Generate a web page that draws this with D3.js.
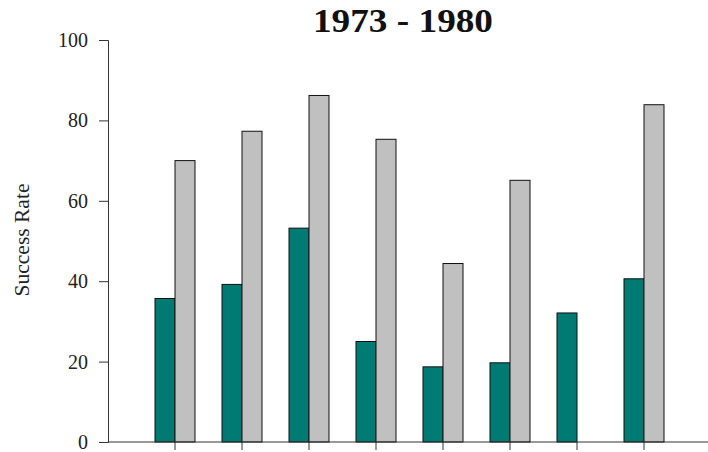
<!DOCTYPE html>
<html lang="en">
<head>
  <meta charset="UTF-8">
  <title>1973 - 1980</title>
  <script src="https://d3js.org/d3.v7.min.js"></script>
  <style>
    body {
      margin: 0;
      background: #fff;
    }
    svg {
      display: block;
      font-family: "Liberation Serif", "Times New Roman", serif;
    }
  </style>
</head>
<body>
  <svg id="chart" width="708" height="452"></svg>

  <script>
    // Chart data.
    const categories = ["1", "2", "3", "4", "5", "6", "7", "8"];
    const seriesA = [35.7, 39.2, 53.2, 25.0, 18.7, 19.7, 32.1, 40.6];
    const seriesB = [70.0, 77.3, 86.2, 75.3, 44.4, 65.1, null, 83.9];
    const yTicks = [0, 20, 40, 60, 80, 100];
    const titleText = "1973 - 1980";
    const yLabel = "Success Rate";

    const svg = d3.select("#chart");
    const plot = { left: 108, top: 40, bottom: 442, right: 708 };

    // x: one band per category, 67px wide, first centre at 175.
    const x = d3.scaleBand()
                .domain(categories)
                .range([plot.left + 33.5, plot.left + 33.5 + 67 * categories.length]);

    const sub = d3.scaleBand()
                  .domain(["a", "b"])
                  .range([0, 40]);

    const y = d3.scaleLinear()
                .domain([0, 100])
                .range([plot.bottom, plot.top]);

    // Title (the original is a bit wider than plain Times bold).
    svg.append("text")
       .attr("x", 403)
       .attr("y", 32)
       .attr("text-anchor", "middle")
       .attr("font-size", 33)
       .attr("font-weight", "bold")
       .attr("fill", "#111")
       .attr("textLength", 180)
       .attr("lengthAdjust", "spacingAndGlyphs")
       .text(titleText);

    // y axis.
    const yAxis = svg.append("g")
                     .attr("transform", `translate(${plot.left},0)`)
                     .call(d3.axisLeft(y).tickValues(yTicks).tickSize(9).tickPadding(11));
    yAxis.select(".domain").attr("stroke", "#333");
    yAxis.selectAll(".tick line").attr("stroke", "#333");
    yAxis.selectAll(".tick text")
         .attr("font-family", "Liberation Serif, serif")
         .attr("font-size", 20)
         .attr("fill", "#222");

    // y axis label.
    svg.append("text")
       .attr("transform", "rotate(-90)")
       .attr("x", -240)
       .attr("y", 29)
       .attr("text-anchor", "middle")
       .attr("font-size", 21.5)
       .attr("fill", "#222")
       .text(yLabel);

    // Bars.
    const groups = svg.selectAll("g.cat")
                      .data(categories)
                      .enter().append("g")
                      .attr("class", "cat")
                      .attr("transform", d => `translate(${x(d) + x.bandwidth() / 2 - 20},0)`);

    groups.append("rect")
          .attr("x", sub("a"))
          .attr("y", (d, i) => y(seriesA[i]))
          .attr("width", sub.bandwidth())
          .attr("height", (d, i) => y(0) - y(seriesA[i]))
          .attr("fill", "#007b73")
          .attr("stroke", "#111")
          .attr("stroke-width", 1);

    groups.filter((d, i) => seriesB[i] != null)
          .append("rect")
          .attr("x", sub("b"))
          .attr("y", d => y(seriesB[categories.indexOf(d)]))
          .attr("width", sub.bandwidth())
          .attr("height", d => y(0) - y(seriesB[categories.indexOf(d)]))
          .attr("fill", "#c0c0c0")
          .attr("stroke", "#111")
          .attr("stroke-width", 1);

    // x axis: line across the plot, tick marks at category centres, no labels.
    const xAxis = svg.append("g")
                     .attr("transform", `translate(0,${plot.bottom})`)
                     .call(d3.axisBottom(x).tickSize(8).tickFormat(""));
    xAxis.select(".domain").remove();
    xAxis.selectAll(".tick line").attr("stroke", "#333");
    xAxis.append("line")
         .attr("x1", plot.left)
         .attr("x2", plot.right)
         .attr("stroke", "#333");
  </script>
</body>
</html>
